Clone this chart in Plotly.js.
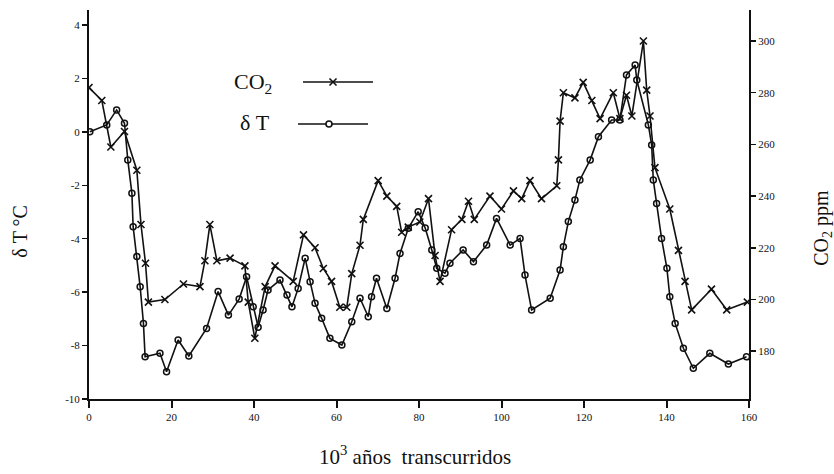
<!DOCTYPE html>
<html>
<head>
<meta charset="utf-8">
<script src="https://cdn.plot.ly/plotly-3.0.1.min.js"></script>
<style>html,body{margin:0;padding:0;background:#fff;}#chart{width:834px;height:474px;}</style>
</head>
<body>
<div id="chart"></div>
<script>
// Age, thousands of years elapsed
var co2Age = [0, 3.1, 5.3, 8.6, 11.6, 12.6, 13.7, 14.4, 18.4, 22.9, 26.9, 28.1, 29.3, 31.0, 34.2, 37.8, 38.6, 40.2, 42.7, 45.1, 49.5, 52.0, 54.8, 56.8, 58.8, 60.8, 62.5, 63.7, 65.7, 66.5, 70.1, 72.2, 74.6, 75.8, 77.4, 80.2, 82.3, 83.9, 85.1, 87.9, 90.4, 92.0, 93.4, 97.2, 100.0, 102.9, 104.9, 106.9, 109.7, 113.4, 113.8, 114.2, 115.0, 117.8, 119.8, 121.9, 123.9, 127.1, 128.7, 130.3, 131.6, 134.4, 135.2, 136.0, 137.2, 140.8, 142.9, 144.5, 146.1, 150.9, 154.6, 159.6];
var co2Ppm = [282, 277, 259, 265, 250, 229, 214, 199, 200, 206, 205, 215, 229, 215, 216, 213, 199, 185, 205, 213, 207, 225, 220, 212, 207, 197, 197, 210, 221, 231, 246, 240, 236, 226, 228, 230, 239, 217, 207, 227, 231, 238, 231, 240, 235, 242, 239, 246, 239, 244, 254, 269, 280, 278, 284, 277, 270, 280, 270, 279, 271, 300, 281, 271, 251, 235, 219, 207, 196, 204, 196, 199];

var tAge = [0.2, 4.3, 6.7, 8.6, 9.4, 10.4, 10.7, 11.6, 12.4, 13.2, 13.6, 17.2, 18.8, 21.6, 24.2, 28.5, 31.3, 33.8, 36.4, 38.2, 39.8, 41.0, 42.2, 43.4, 46.3, 48.0, 49.2, 50.7, 52.4, 53.6, 54.8, 56.4, 58.4, 61.3, 63.7, 65.7, 67.7, 68.5, 69.7, 72.2, 74.2, 75.4, 77.4, 79.8, 81.5, 83.1, 84.3, 86.3, 87.5, 90.7, 93.2, 96.4, 98.8, 102.1, 104.5, 105.7, 107.3, 111.8, 114.2, 115.0, 116.2, 117.8, 119.0, 121.5, 123.5, 126.7, 128.7, 130.3, 132.4, 132.8, 135.6, 136.4, 136.8, 137.6, 138.8, 140.1, 140.8, 142.1, 144.1, 146.5, 150.5, 155.0, 159.4];
var tDelta = [0.0, 0.26, 0.82, 0.32, -1.05, -2.3, -3.55, -4.67, -5.8, -7.17, -8.42, -8.29, -8.98, -7.79, -8.39, -7.36, -5.98, -6.86, -6.26, -5.42, -6.55, -7.31, -6.67, -5.92, -5.55, -6.11, -6.55, -5.86, -4.73, -5.61, -6.42, -6.98, -7.73, -7.98, -7.11, -6.23, -6.92, -6.17, -5.48, -6.61, -5.48, -4.55, -3.61, -2.99, -3.6, -4.42, -5.11, -5.29, -4.92, -4.42, -4.86, -4.24, -3.24, -4.24, -3.99, -5.36, -6.67, -6.23, -5.17, -4.3, -3.36, -2.55, -1.8, -1.05, -0.18, 0.44, 0.44, 2.13, 2.5, 1.94, 0.26, -0.49, -1.8, -2.68, -3.99, -5.11, -6.17, -7.17, -8.1, -8.85, -8.29, -8.69, -8.42];

var xTicks = [0, 20, 40, 60, 80, 100, 120, 140, 160];
var tTicks = [4, 2, 0, -2, -4, -6, -8, -10];
var co2Ticks = [300, 280, 260, 240, 220, 200, 180, 160];

var ink = '#111';
var tickFont = {family: 'Liberation Serif', size: 11, color: ink};
var serif = 'Liberation Serif';

var traces = [
  {x: co2Age, y: co2Ppm, yaxis: 'y2', type: 'scatter', mode: 'lines+markers', name: 'CO2',
   line: {color: ink, width: 1.6},
   marker: {symbol: 'x-thin-open', size: 7, line: {color: ink, width: 1.6}, color: ink}},
  {x: tAge, y: tDelta, type: 'scatter', mode: 'lines+markers', name: 'δ T',
   line: {color: ink, width: 1.6},
   marker: {symbol: 'circle-open', size: 6, line: {color: ink, width: 1.5}, color: ink}}
];

var layout = {
  width: 834, height: 474,
  margin: {l: 89, r: 85, t: 10, b: 75},
  paper_bgcolor: '#fff', plot_bgcolor: '#fff',
  showlegend: false,
  font: {family: serif, color: ink},
  xaxis: {range: [0, 160], tickvals: xTicks, ticktext: xTicks.map(String),
    showgrid: false, zeroline: false, showline: true, linecolor: ink, linewidth: 2,
    ticks: 'outside', ticklen: 7, tickwidth: 2, tickcolor: ink, tickfont: tickFont, fixedrange: true},
  yaxis: {range: [-10, 4.56], tickvals: tTicks, ticktext: tTicks.map(String),
    showgrid: false, zeroline: false, showline: true, linecolor: ink, linewidth: 2,
    ticks: 'outside', ticklen: 5, tickwidth: 1.5, tickcolor: ink, tickfont: tickFont, fixedrange: true},
  yaxis2: {range: [161.5, 312], overlaying: 'y', side: 'right', tickvals: co2Ticks, ticktext: co2Ticks.map(String),
    showgrid: false, zeroline: false, showline: true, linecolor: ink, linewidth: 2,
    ticks: 'outside', ticklen: 5, tickwidth: 1.5, tickcolor: ink, tickfont: tickFont, fixedrange: true},
  annotations: [
    {text: 'CO<sub>2</sub>', xref: 'paper', yref: 'paper', x: 0.2167, y: 0.812, xanchor: 'left', yanchor: 'middle', showarrow: false,
     font: {family: serif, size: 22, color: ink}},
    {text: 'δ T', xref: 'paper', yref: 'paper', x: 0.2258, y: 0.712, xanchor: 'left', yanchor: 'middle', showarrow: false,
     font: {family: serif, size: 22, color: ink}},
    {text: '10<sup>3</sup> años  transcurridos', xref: 'paper', yref: 'paper', x: 0.494, y: -0.144, xanchor: 'center', yanchor: 'middle', showarrow: false,
     font: {family: serif, size: 21, color: ink}},
    {text: 'δ T °C', xref: 'paper', yref: 'paper', x: -0.1045, y: 0.43, xanchor: 'center', yanchor: 'middle', showarrow: false, textangle: -90,
     font: {family: serif, size: 20, color: ink}},
    {text: 'CO<sub>2</sub> ppm', xref: 'paper', yref: 'paper', x: 1.112, y: 0.44, xanchor: 'center', yanchor: 'middle', showarrow: false, textangle: -90,
     font: {family: serif, size: 20, color: ink}}
  ],
  shapes: [
    {type: 'line', xref: 'paper', yref: 'paper', x0: 0.3242, x1: 0.4303, y0: 0.8149, y1: 0.8149, line: {color: ink, width: 1.6}},
    {type: 'line', xref: 'paper', yref: 'paper', xsizemode: 'pixel', ysizemode: 'pixel', xanchor: 0.3697, yanchor: 0.8149,
     x0: -3.5, x1: 3.5, y0: -3.5, y1: 3.5, line: {color: ink, width: 1.6}},
    {type: 'line', xref: 'paper', yref: 'paper', xsizemode: 'pixel', ysizemode: 'pixel', xanchor: 0.3697, yanchor: 0.8149,
     x0: -3.5, x1: 3.5, y0: 3.5, y1: -3.5, line: {color: ink, width: 1.6}},
    {type: 'line', xref: 'paper', yref: 'paper', x0: 0.3167, x1: 0.4227, y0: 0.7069, y1: 0.7069, line: {color: ink, width: 1.6}},
    {type: 'circle', xref: 'paper', yref: 'paper', xsizemode: 'pixel', ysizemode: 'pixel', xanchor: 0.3636, yanchor: 0.7069,
     x0: -3, x1: 3, y0: -3, y1: 3, fillcolor: '#fff', line: {color: ink, width: 1.6}}
  ]
};

Plotly.newPlot('chart', traces, layout, {staticPlot: true, displayModeBar: false});
</script>
</body>
</html>
